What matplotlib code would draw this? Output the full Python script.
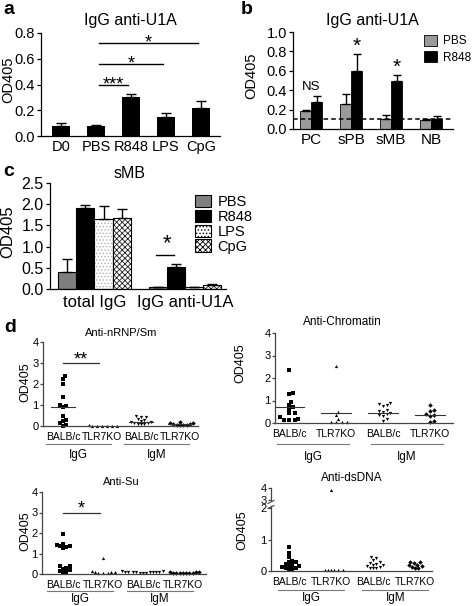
import matplotlib
matplotlib.use('Agg')
import matplotlib.pyplot as plt
import matplotlib.transforms as mtrans
from matplotlib.patches import Patch
import numpy as np

plt.rcParams['font.family'] = ['Liberation Sans', 'DejaVu Sans']
plt.rcParams['hatch.linewidth'] = 0.6

# ---------------- data ----------------
a_cats = ['D0', 'PBS', 'R848', 'LPS', 'CpG']
a_vals = [0.08, 0.08, 0.30, 0.15, 0.22]
a_err = [0.02, 0.005, 0.03, 0.03, 0.05]
a_sig = [('R848', '***'), ('LPS', '*'), ('CpG', '*')]
a_sig_y = [0.40, 0.56, 0.72]

b_cats = ['PC', 'sPB', 'sMB', 'NB']
b_pbs = [0.19, 0.26, 0.10, 0.09]
b_pbs_err = [0.01, 0.10, 0.04, 0.015]
b_r848 = [0.28, 0.60, 0.49, 0.10]
b_r848_err = [0.06, 0.17, 0.07, 0.03]
b_cutoff = 0.1
b_marks = ['NS', '*', '*', '']

c_groups = ['total IgG', 'IgG anti-U1A']
c_series = ['PBS', 'R848', 'LPS', 'CpG']
c_pbs = [0.40, 0.05]
c_pbs_err = [0.30, 0.0]
c_r848 = [1.90, 0.53]
c_r848_err = [0.07, 0.05]
c_lps = [1.65, 0.05]
c_lps_err = [0.30, 0.0]
c_cpg = [1.67, 0.10]
c_cpg_err = [0.22, 0.01]

d_groups = ['BALB/c', 'TLR7KO', 'BALB/c', 'TLR7KO']
d_isotypes = ['IgG', 'IgM']

nrnp_balb_igg = [2.4, 2.25, 2.0, 1.4, 1.0, 0.95, 0.9, 0.5, 0.3, 0.25, 0.15, 0.03, 0.02]
nrnp_ko_igg = [0.02, 0.02, 0.02, 0.02, 0.03, 0.02, 0.02]
nrnp_balb_igm = [0.5, 0.45, 0.45, 0.35, 0.3, 0.25, 0.2, 0.2, 0.15, 0.15, 0.1, 0.1, 0.08]
nrnp_ko_igm = [0.2, 0.15, 0.12, 0.1, 0.08, 0.06, 0.05, 0.04, 0.03]
nrnp_lines = [0.92, 0.02, 0.2, 0.08]

chrom_balb_igg = [2.35, 1.35, 1.3, 0.95, 0.8, 0.7, 0.62, 0.45, 0.45, 0.25, 0.2, 0.15, 0.15, 0.15]
chrom_ko_igg = [2.55, 0.5, 0.35, 0.2, 0.05, 0.05, 0.05, 0.05]
chrom_balb_igm = [0.9, 0.85, 0.8, 0.75, 0.6, 0.55, 0.5, 0.45, 0.4, 0.35, 0.3, 0.2, 0.1]
chrom_ko_igm = [0.8, 0.6, 0.55, 0.4, 0.35, 0.3, 0.1, 0.05]
chrom_lines = [0.73, 0.45, 0.43, 0.35]

su_balb_igg = [1.95, 1.45, 1.4, 1.38, 1.35, 1.3, 1.25, 0.4, 0.38, 0.3, 0.25, 0.2, 0.15, 0.1, 0.08]
su_ko_igg = [0.78, 0.15, 0.12, 0.1, 0.05, 0.05, 0.05, 0.1]
su_balb_igm = [0.15, 0.14, 0.12, 0.12, 0.1, 0.1, 0.1, 0.08, 0.08, 0.08, 0.07, 0.06, 0.05]
su_ko_igm = [0.1, 0.08, 0.08, 0.07, 0.06, 0.05, 0.05, 0.04, 0.04, 0.03]

ds_balb_igg = [0.77, 0.57, 0.45, 0.32, 0.3, 0.28, 0.22, 0.2, 0.18, 0.15, 0.12, 0.1, 0.08, 0.07, 0.05]
ds_ko_igg = [3.85, 0.03, 0.03, 0.03, 0.03, 0.03, 0.03]
ds_balb_igm = [0.45, 0.42, 0.35, 0.3, 0.25, 0.22, 0.2, 0.18, 0.15, 0.12, 0.1, 0.1, 0.08]
ds_ko_igm = [0.3, 0.28, 0.25, 0.2, 0.18, 0.15, 0.12, 0.1, 0.1]

d_markers = ['s', '^', 'v', 'D']

# ---------------- figure ----------------
W, H = 472, 606
fig = plt.figure(figsize=(W / 100, H / 100), dpi=100)


def box(l, r, t, b):
    return [l / W, 1 - b / H, (r - l) / W, (b - t) / H]


def ftext(x, y, s, **kw):
    kw.setdefault('ha', 'center')
    kw.setdefault('va', 'center')
    fig.text(x / W, 1 - y / H, s, **kw)


def style(ax, xfs, yfs, spc='black', tl=3):
    for s in ['top', 'right']:
        ax.spines[s].set_visible(False)
    for s in ['left', 'bottom']:
        ax.spines[s].set_color(spc)
        ax.spines[s].set_linewidth(0.9)
    ax.tick_params(axis='x', length=0, labelsize=xfs, pad=3)
    ax.tick_params(axis='y', length=tl, labelsize=yfs, pad=1.5, width=0.9, color=spc)


ekw = dict(elinewidth=1, capthick=1, ecolor='black')

# ---------- panel a ----------
axa = fig.add_axes(box(41, 220, 33, 136))
xa = np.arange(len(a_cats))
axa.bar(xa, a_vals, width=0.52, color='black',
        yerr=[np.zeros(len(a_err)), a_err], capsize=3.5, error_kw=ekw)
axa.set_xlim(-0.57, 4.54)
axa.set_ylim(0, 0.8)
axa.set_yticks([0, 0.2, 0.4, 0.6, 0.8])
axa.set_yticklabels(['0.0', '0.2', '0.4', '0.6', '0.8'])
axa.set_xticks(xa)
axa.set_xticklabels(a_cats)
style(axa, 10.5, 10.5)
for (tgt, mark), yv in zip(a_sig, a_sig_y):
    x0 = a_cats.index('PBS') + 0.1
    x1 = a_cats.index(tgt) - 0.1
    axa.plot([x0, x1], [yv, yv], color='black', lw=1)
    axa.text((x0 + x1) / 2, yv - 0.035, mark, ha='center', va='baseline', fontsize=13)
ftext(130, 21, 'IgG anti-U1A', fontsize=11.5)
ftext(8, 80, 'OD405', rotation=90, fontsize=10.5)
ftext(9, 10, 'a', fontsize=14, fontweight='bold')

# ---------- panel b ----------
axb = fig.add_axes(box(293, 453, 32, 129))
xb = np.arange(len(b_cats))
bw = 0.275
axb.bar(xb - bw / 2, b_pbs, width=bw, color='#9a9a9a', edgecolor='black', linewidth=0.6,
        yerr=[np.zeros(4), b_pbs_err], capsize=3, error_kw=ekw, label='PBS')
axb.bar(xb + bw / 2, b_r848, width=bw, color='black', edgecolor='black', linewidth=0.6,
        yerr=[np.zeros(4), b_r848_err], capsize=3, error_kw=ekw, label='R848')
axb.axhline(b_cutoff, color='black', lw=1.1, ls=(0, (3, 2)))
axb.set_xlim(-0.45, 3.55)
axb.set_ylim(0, 1.0)
axb.set_yticks([0, 0.2, 0.4, 0.6, 0.8, 1.0])
axb.set_yticklabels(['0.0', '0.2', '0.4', '0.6', '0.8', '1.0'])
axb.set_xticks(xb)
axb.set_xticklabels(b_cats)
style(axb, 11, 10.5)
for i, m in enumerate(b_marks):
    if not m:
        continue
    top = b_r848[i] + b_r848_err[i]
    if m == 'NS':
        axb.text(xb[i], top + 0.03, m, ha='center', va='bottom', fontsize=9.5)
    else:
        axb.text(xb[i] + bw / 2, top - 0.02, m, ha='center', va='bottom', fontsize=15)
axb.legend(loc='upper left', bbox_to_anchor=(424 / W, 1 - 35 / H), bbox_transform=fig.transFigure,
           frameon=False, fontsize=8.5, handlelength=1.1, handleheight=1.0, handletextpad=0.5,
           borderpad=0, borderaxespad=0, labelspacing=0.35)
ftext(372, 21, 'IgG anti-U1A', fontsize=11.5)
ftext(251, 76, 'OD405', rotation=90, fontsize=10.5)
ftext(247, 10, 'b', fontsize=14, fontweight='bold')

# ---------- panel c ----------
axc = fig.add_axes(box(50, 226, 183, 289))
xc = np.arange(len(c_groups))
cw = 0.2
offs = [-1.5 * cw, -0.5 * cw, 0.5 * cw, 1.5 * cw]
vals_c = [c_pbs, c_r848, c_lps, c_cpg]
errs_c = [c_pbs_err, c_r848_err, c_lps_err, c_cpg_err]
fills = [dict(color='#7f7f7f'), dict(color='black'),
         dict(facecolor='white', hatch='.....', edgecolor='#b0b0b0'),
         dict(facecolor='white', hatch='xxxxxx', edgecolor='#202020')]
for k in range(4):
    axc.bar(xc + offs[k], vals_c[k], width=cw, linewidth=0, label=c_series[k], **fills[k])
    axc.bar(xc + offs[k], vals_c[k], width=cw, fill=False, edgecolor='black', linewidth=0.8,
            yerr=[np.zeros(2), errs_c[k]], capsize=3.5, error_kw=ekw)
axc.set_xlim(-0.49, 1.45)
axc.set_ylim(0, 2.5)
axc.set_yticks([0, 0.5, 1.0, 1.5, 2.0, 2.5])
axc.set_yticklabels(['0.0', '0.5', '1.0', '1.5', '2.0', '2.5'])
axc.set_xticks(xc)
axc.set_xticklabels(c_groups)
style(axc, 12, 11.5)
axc.tick_params(axis='x', pad=4)
sx0 = xc[1] + offs[0]
sx1 = xc[1] + offs[1]
axc.plot([sx0 - 0.02, sx1 - 0.02], [0.80, 0.80], color='black', lw=1)
axc.text((sx0 + sx1) / 2, 0.82, '*', ha='center', va='bottom', fontsize=16)
hs = []
for k in range(4):
    if 'color' in fills[k]:
        hs.append(Patch(facecolor=fills[k]['color'], edgecolor='black', linewidth=0.8))
    else:
        hs.append(Patch(facecolor='white', hatch=fills[k]['hatch'], edgecolor='black', linewidth=0.8))
axc.legend(hs, c_series, loc='upper left', bbox_to_anchor=(195 / W, 1 - 195 / H),
           bbox_transform=fig.transFigure, frameon=False, fontsize=10.5, handlelength=1.1,
           handleheight=0.9, handletextpad=0.45, borderpad=0, borderaxespad=0, labelspacing=0.05)
ftext(130, 174, 'sMB', fontsize=11.5)
ftext(8, 232, 'OD405', rotation=90, fontsize=12)
ftext(9, 172, 'c', fontsize=14, fontweight='bold')


# ---------- panel d ----------
def swarm(ax, x0, vals, marker, dpx=3.3, ms=2.3):
    tr = ax.transData
    inv = tr.inverted()
    placed = []
    xs = np.zeros(len(vals))
    order = np.argsort(vals)
    cands = [0]
    for k in range(1, 30):
        cands += [k, -k]
    for i in order:
        cx, cy = tr.transform((x0, vals[i]))
        for c in cands:
            px = cx + c * dpx * 0.5
            if all((px - qx) ** 2 + (cy - qy) ** 2 >= dpx ** 2 for qx, qy in placed):
                break
        placed.append((px, cy))
        xs[i] = inv.transform((px, cy))[0]
    ax.plot(xs, vals, ls='none', marker=marker, ms=ms, color='black', clip_on=False,
            markeredgewidth=0)


def d_axes(rect, xlim, ylim, yticks):
    ax = fig.add_axes(rect)
    ax.set_xlim(*xlim)
    ax.set_ylim(*ylim)
    ax.set_yticks(yticks)
    ax.set_xticks(range(4))
    ax.set_xticklabels(d_groups)
    style(ax, 7.5, 8, spc='#444444', tl=2)
    ax.tick_params(axis='x', pad=4.5)
    ax.tick_params(axis='y', pad=1)
    return ax


def d_under(ax, uline_px, iso_px, ext):
    base = mtrans.blended_transform_factory(ax.transData, ax.transAxes)
    tl = base + mtrans.ScaledTranslation(0, -uline_px / 100, fig.dpi_scale_trans)
    ti = base + mtrans.ScaledTranslation(0, -iso_px / 100, fig.dpi_scale_trans)
    for j, iso in enumerate(d_isotypes):
        x0 = 2 * j + ext[0]
        x1 = 2 * j + ext[1]
        ax.plot([x0, x1], [0, 0], transform=tl, color='#777777', lw=0.8, clip_on=False)
        ax.text((x0 + x1) / 2, 0, iso, transform=ti, ha='center', va='center', fontsize=8.5)


def d_lines(ax, lines, half=0.3):
    for i, v in enumerate(lines):
        ax.plot([i - half, i + half], [v, v], color='#333333', lw=0.8)


# Anti-nRNP/Sm
ax1 = d_axes(box(43, 198, 342, 426), (-0.51, 3.46), (0, 4), [0, 1, 2, 3, 4])
for i, v in enumerate([nrnp_balb_igg, nrnp_ko_igg, nrnp_balb_igm, nrnp_ko_igm]):
    swarm(ax1, i, v, d_markers[i])
d_lines(ax1, nrnp_lines)
ax1.plot([0, 0.92], [3.0, 3.0], color='#333333', lw=0.9)
ax1.text(0.46, 2.95, '**', ha='center', va='baseline', fontsize=13)
ftext(121, 333, 'Anti-nRNP/Sm', fontsize=8)
ftext(25, 382, 'OD405', rotation=90, fontsize=9)
ftext(10, 328, 'd', fontsize=14, fontweight='bold')

# Anti-Chromatin
ax2 = d_axes(box(275, 453, 333, 423), (-0.3, 3.49), (0, 4), [0, 1, 2, 3, 4])
for i, v in enumerate([chrom_balb_igg, chrom_ko_igg, chrom_balb_igm, chrom_ko_igm]):
    swarm(ax2, i, v, d_markers[i], dpx=3.7)
d_lines(ax2, chrom_lines, 0.32)
ftext(342, 322, 'Anti-Chromatin', fontsize=8.5)
ftext(240, 363, 'OD405', rotation=90, fontsize=9)

# Anti-Su
ax3 = d_axes(box(42, 206, 492, 574), (-0.53, 3.58), (0, 4), [0, 1, 2, 3, 4])
for i, v in enumerate([su_balb_igg, su_ko_igg, su_balb_igm, su_ko_igm]):
    swarm(ax3, i, v, d_markers[i])
ax3.plot([0, 0.92], [3.0, 3.0], color='#333333', lw=0.9)
ax3.text(0.46, 2.95, '*', ha='center', va='baseline', fontsize=13)
ftext(121, 482, 'Anti-Su', fontsize=8)
ftext(25, 531, 'OD405', rotation=90, fontsize=9)

# Anti-dsDNA (broken axis)
ax4 = d_axes(box(271, 432, 508, 571), (-0.43, 3.4), (0, 2), [0, 1, 2])
ax4u = fig.add_axes(box(271, 432, 488, 500))
ax4u.set_xlim(-0.43, 3.4)
ax4u.set_ylim(3, 4)
ax4u.set_yticks([3, 4])
style(ax4u, 7.5, 8, spc='#444444', tl=2)
ax4u.tick_params(axis='y', pad=1)
ax4u.spines['bottom'].set_visible(False)
ax4u.set_xticks([])
ax4u.patch.set_alpha(0)
ax4.spines['left'].set_bounds(0, 2.07)
for i, v in enumerate([ds_balb_igg, ds_ko_igg, ds_balb_igm, ds_ko_igm]):
    lo = [x for x in v if x <= 2]
    hi = [x for x in v if x > 2]
    swarm(ax4, i, lo, d_markers[i])
    if hi:
        swarm(ax4u, i, hi, d_markers[i])
bx = 271 / W
for yy in (502, 507):
    fig.add_artist(plt.Line2D([bx - 3 / W, bx + 3 / W], [1 - (yy + 1.5) / H, 1 - (yy - 1.5) / H],
                              color='#444444', lw=0.8))
ftext(352, 478, 'Anti-dsDNA', fontsize=8.5)
ftext(242, 530, 'OD405', rotation=90, fontsize=9)

d_under(ax1, 18, 29, (-0.43, 1.23))
d_under(ax2, 21, 34, (-0.26, 1.28))
d_under(ax3, 17, 25, (-0.4, 1.25))
d_under(ax4, 19, 27, (-0.26, 1.31))

fig.savefig('out.png', dpi=100)
